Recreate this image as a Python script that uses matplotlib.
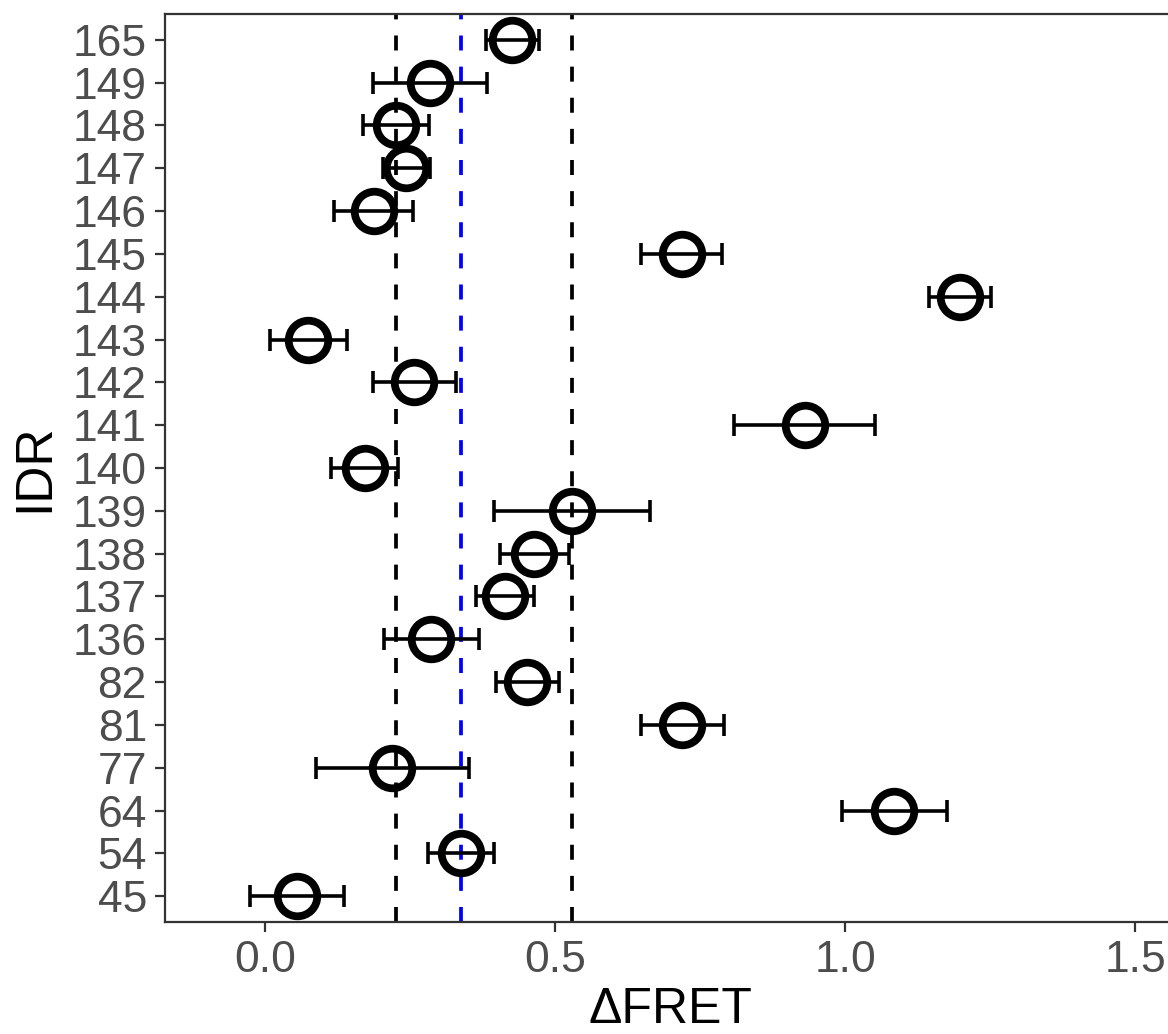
import matplotlib
matplotlib.use("Agg")
from matplotlib import pyplot as plt

plt.rcParams['font.family'] = ['Liberation Sans', 'DejaVu Sans']

# IDR constructs, bottom to top, with mean ΔFRET and error
idr = ["45", "54", "64", "77", "81", "82", "136", "137", "138", "139", "140",
       "141", "142", "143", "144", "145", "146", "147", "148", "149", "165"]
dfret = [0.054, 0.338, 1.085, 0.219, 0.719, 0.452, 0.286, 0.413, 0.464, 0.529, 0.171,
         0.930, 0.257, 0.074, 1.198, 0.718, 0.187, 0.243, 0.225, 0.284, 0.426]
err = [0.081, 0.057, 0.091, 0.132, 0.072, 0.054, 0.082, 0.050, 0.059, 0.134, 0.058,
       0.121, 0.072, 0.066, 0.054, 0.070, 0.068, 0.041, 0.057, 0.099, 0.046]

# reference lines: lower / upper bound (black) and mean (blue)
bounds = [0.225, 0.529]
mean_line = 0.338

fig = plt.figure(figsize=(11.68, 10.34), dpi=100)
ax = fig.add_axes([165 / 1168, 1 - 922 / 1034, 1010 / 1168, (922 - 14) / 1034])

ypos = list(range(1, len(idr) + 1))

for b in bounds:
    ax.axvline(b, color="black", lw=2.7, dashes=(4, 4.3), zorder=1)
ax.axvline(mean_line, color="#0000FF", lw=2.7, dashes=(4, 4.3), zorder=1)

ax.errorbar(dfret, ypos, xerr=err, fmt="none", ecolor="black", elinewidth=2.6,
            capsize=7.8, capthick=2.6, zorder=2)
ax.plot(dfret, ypos, "o", ms=28.5, mfc="none", mec="black", mew=5.6, zorder=3)

ax.set_xlim(-0.1733, 1.569)
ax.set_ylim(0.4, len(idr) + 0.6)
ax.set_yticks(ypos)
ax.set_yticklabels(idr)
ax.set_xticks([0.0, 0.5, 1.0, 1.5])
ax.set_xticklabels(["0.0", "0.5", "1.0", "1.5"])

ax.tick_params(axis="both", labelsize=32, labelcolor="#4D4D4D", color="#333333",
               length=7, width=1.6, pad=6)
for s in ax.spines.values():
    s.set_color("#333333")
    s.set_linewidth(1.6)

ax.set_xlabel("ΔFRET", fontsize=36, labelpad=4)
ax.set_ylabel("IDR", fontsize=37, labelpad=10)

plt.savefig("out.png", dpi=100)
plt.close()
